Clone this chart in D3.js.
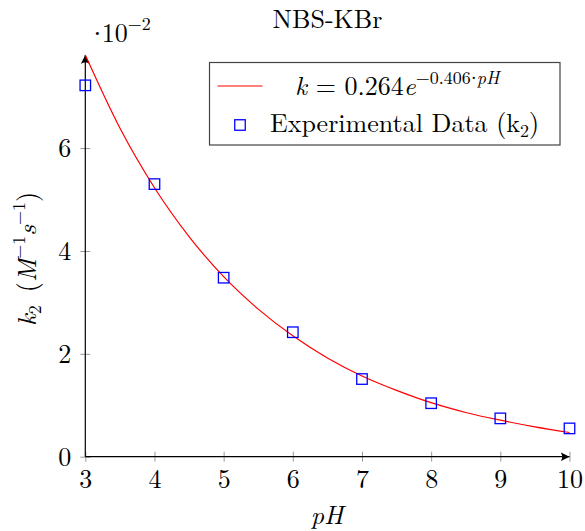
<!DOCTYPE html>
<html>
<head>
<meta charset="utf-8">
<script src="https://cdn.jsdelivr.net/npm/d3@7"></script>
<style>
  body { margin: 0; background: #fff; }
</style>
</head>
<body>
<div id="chart"></div>
<script>
// NBS-KBr rate constants vs pH

const phValues = [3, 4, 5, 6, 7, 8, 9, 10];
const k2Values = [7.22, 5.30, 3.48, 2.42, 1.51, 1.04, 0.745, 0.55]; // x 10^-2

// fitted curve (x 10^-2)
const fitPh = [3, 3.5, 4, 4.5, 5, 5.5, 6, 6.5, 7, 7.5, 8, 8.5, 9, 9.5, 10];
const fitK = [7.81, 6.39, 5.23, 4.28, 3.50, 2.87, 2.35, 1.92, 1.57, 1.29, 1.05, 0.86, 0.71, 0.58, 0.47];

const xTicks = [3, 4, 5, 6, 7, 8, 9, 10];
const yTicks = [0, 2, 4, 6];

const FONT = '"Latin Modern Roman", "Liberation Serif", serif';
const DOT_FONT = '"Liberation Serif", serif';

function drawChart() {
    const width = 585, height = 531;
    const left = 85.3, right = 569.5, top = 55, bottom = 456.7;

    const svg = d3.select('#chart').append('svg')
        .attr('width', width)
        .attr('height', height)
        .style('font-family', FONT);

    const x = d3.scaleLinear().domain([3, 10]).range([left, right]);
    const y = d3.scaleLinear().domain([0, 7.81]).range([bottom, top]);

    // arrow head
    svg.append('defs').append('marker')
        .attr('id', 'arrow')
        .attr('viewBox', '0 0 10 10')
        .attr('refX', 10)
        .attr('refY', 5)
        .attr('markerWidth', 9)
        .attr('markerHeight', 9)
        .attr('markerUnits', 'userSpaceOnUse')
        .attr('orient', 'auto')
        .append('path')
        .attr('d', 'M0,0 Q4,5 0,10 L10,5 Z')
        .attr('fill', '#000');

    // x axis
    const xAxis = svg.append('g')
        .attr('transform', `translate(0,${bottom})`)
        .call(d3.axisBottom(x).tickValues(xTicks).tickFormat(d3.format('d')).tickSize(10));
    xAxis.select('.domain').remove();
    xAxis.selectAll('.tick line').attr('y1', -5).attr('y2', 5).attr('stroke', '#999');
    xAxis.selectAll('.tick text')
        .style('font-family', FONT).style('font-size', '26px')
        .attr('y', 13).attr('dy', '0.71em');

    // y axis
    const yAxis = svg.append('g')
        .attr('transform', `translate(${left},0)`)
        .call(d3.axisLeft(y).tickValues(yTicks).tickFormat(d3.format('d')).tickSize(10));
    yAxis.select('.domain').remove();
    yAxis.selectAll('.tick line').attr('x1', -5).attr('x2', 5).attr('stroke', '#999');
    yAxis.selectAll('.tick text')
        .style('font-family', FONT).style('font-size', '26px')
        .attr('x', -14).attr('dy', '0.34em');

    // axis lines with arrows
    svg.append('line')
        .attr('x1', left).attr('y1', bottom)
        .attr('x2', right).attr('y2', bottom)
        .attr('stroke', '#000').attr('stroke-width', 1.2)
        .attr('marker-end', 'url(#arrow)');
    svg.append('line')
        .attr('x1', left).attr('y1', bottom)
        .attr('x2', left).attr('y2', top)
        .attr('stroke', '#000').attr('stroke-width', 1.2)
        .attr('marker-end', 'url(#arrow)');

    // fitted curve
    const line = d3.line()
        .x((d, i) => x(fitPh[i]))
        .y(d => y(d))
        .curve(d3.curveMonotoneX);
    svg.append('path')
        .datum(fitK)
        .attr('d', line)
        .attr('fill', 'none')
        .attr('stroke', '#f00')
        .attr('stroke-width', 1.2);

    // data markers
    const size = 10.5;
    svg.selectAll('.pt')
        .data(k2Values)
        .enter()
        .append('rect')
        .attr('class', 'pt')
        .attr('x', (d, i) => x(phValues[i]) - size / 2)
        .attr('y', d => y(d) - size / 2)
        .attr('width', size)
        .attr('height', size)
        .attr('fill', 'none')
        .attr('stroke', '#00f')
        .attr('stroke-width', 1.3);

    // title
    svg.append('text')
        .attr('x', 327.5).attr('y', 28)
        .attr('text-anchor', 'middle')
        .style('font-size', '26px')
        .text('NBS-KBr');

    // scale factor
    const sf = svg.append('text').attr('x', 93).attr('y', 42).style('font-size', '26px');
    sf.append('tspan').style('font-family', DOT_FONT).text('\u00b7');
    sf.append('tspan').text('10');
    sf.append('tspan').attr('dy', -12).style('font-size', '18px').text('\u22122');

    // axis labels
    svg.append('text')
        .attr('x', 327).attr('y', 524)
        .attr('text-anchor', 'middle')
        .style('font-size', '26px')
        .style('font-style', 'italic')
        .text('pH');

    const yl = svg.append('text')
        .attr('transform', 'translate(36,259) rotate(-90)')
        .attr('text-anchor', 'middle')
        .style('font-size', '26px');
    yl.append('tspan').style('font-style', 'italic').text('k');
    yl.append('tspan').attr('dy', 5).style('font-size', '18px').text('2');
    yl.append('tspan').attr('dy', -5).text('\u2002(');
    yl.append('tspan').style('font-style', 'italic').text('M');
    yl.append('tspan').attr('dy', -11).style('font-size', '18px').text('\u22121');
    yl.append('tspan').attr('dy', 11).style('font-style', 'italic').text('s');
    yl.append('tspan').attr('dy', -11).style('font-size', '18px').text('\u22121');
    yl.append('tspan').attr('dy', 11).text(')');

    // legend
    const lg = svg.append('g');
    lg.append('rect')
        .attr('x', 209.5).attr('y', 62.5)
        .attr('width', 350.5).attr('height', 82.5)
        .attr('fill', '#fff')
        .attr('stroke', '#444')
        .attr('stroke-width', 1.2);
    lg.append('line')
        .attr('x1', 217.5).attr('x2', 262.5)
        .attr('y1', 86).attr('y2', 86)
        .attr('stroke', '#f00').attr('stroke-width', 1.2);
    const eq = lg.append('text').attr('x', 295).attr('y', 95).style('font-size', '26px');
    eq.append('tspan').style('font-style', 'italic').text('k');
    eq.append('tspan').text(' = 0.264');
    eq.append('tspan').style('font-style', 'italic').text('e');
    eq.append('tspan').attr('dy', -11).style('font-size', '18px').text('\u22120.406');
    eq.append('tspan').style('font-size', '18px').style('font-family', DOT_FONT).text('\u00b7');
    eq.append('tspan').style('font-size', '18px').style('font-style', 'italic').text('pH');

    lg.append('rect')
        .attr('x', 240 - size / 2).attr('y', 125 - size / 2)
        .attr('width', size).attr('height', size)
        .attr('fill', 'none').attr('stroke', '#00f').attr('stroke-width', 1.3);
    const ex = lg.append('text').attr('x', 270).attr('y', 132).style('font-size', '26px');
    ex.append('tspan').text('Experimental Data (k');
    ex.append('tspan').attr('dy', 5).style('font-size', '18px').text('2');
    ex.append('tspan').attr('dy', -5).text(')');
}

drawChart();
</script>
</body>
</html>
